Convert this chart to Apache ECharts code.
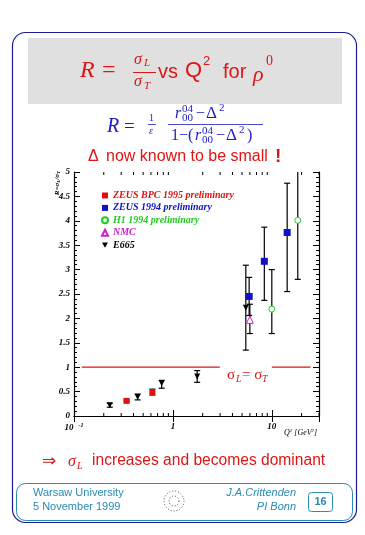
<!DOCTYPE html>
<html><head><meta charset="utf-8">
<script src="https://cdn.jsdelivr.net/npm/echarts@6/dist/echarts.min.js"></script>
<style>html,body{margin:0;padding:0;background:#fff}#c{width:365px;height:535px}</style>
</head><body><div id="c"></div>
<script>
// ---- data ----
const bpcQ = [0.34, 0.62];
const bpcR = [0.31, 0.49];
const bpcLo = [0.29, 0.43];
const bpcHi = [0.33, 0.55];

const zeus94Q = [5.9, 8.4, 14.3];
const zeus94R = [2.45, 3.17, 3.76];
const zeus94Lo = [2.06, 2.37, 2.55];
const zeus94Hi = [2.84, 3.87, 4.77];

const h1Q = [10.0, 18.3];
const h1R = [2.19, 4.01];
const h1Lo = [1.69, 2.80];
const h1Hi = [3.00, 5.20];

const nmcQ = [6.0];
const nmcR = [1.97];
const nmcLo = [1.69];
const nmcHi = [2.29];

const e665Q = [0.23, 0.44, 0.77, 1.76, 5.46];
const e665R = [0.22, 0.39, 0.67, 0.81, 2.22];
const e665Lo = [0.18, 0.33, 0.57, 0.69, 1.35];
const e665Hi = [0.26, 0.45, 0.73, 0.93, 3.09];

const refLineSegments = [[0.12, 2.98], [10, 24.6]];
const refLineR = 1;

const xMinorTicks = [0.2,0.3,0.4,0.5,0.6,0.7,0.8,0.9,2,3,4,5,6,7,8,9,20,30];
const legendNames = ['ZEUS BPC 1995 preliminary','ZEUS 1994 preliminary','H1 1994 preliminary','NMC','E665'];

// ---- helpers ----
const RED = '#dd1515', BLUE = '#1a1acc', TEAL = '#2a8ab4';
const serif = '"Liberation Serif","DejaVu Serif",serif';
const sans = '"Liberation Sans","DejaVu Sans",sans-serif';
function pts(q, r) { return q.map((v, i) => [v, r[i]]); }
function errs(q, lo, hi) { return q.map((v, i) => [v, lo[i], hi[i]]); }
const allErr = [].concat(errs(bpcQ,bpcLo,bpcHi), errs(zeus94Q,zeus94Lo,zeus94Hi), errs(h1Q,h1Lo,h1Hi), errs(nmcQ,nmcLo,nmcHi), errs(e665Q,e665Lo,e665Hi));

const chart = echarts.init(document.getElementById('c'), null, {renderer:'canvas'});
const axisFont = {fontFamily: serif, fontStyle:'italic', fontWeight:'bold', fontSize:9, color:'#000'};

function T(text, x, y, font, fill, extra) {
  return {type:'text', z:10, style:Object.assign({text, x, y, font, fill, verticalAlign:'middle'}, extra||{})};
}
function L(x1,y1,x2,y2,stroke,w){ return {type:'line', shape:{x1,y1,x2,y2}, style:{stroke, lineWidth:w||1}, z:10}; }

const graphic = [
  {type:'rect', shape:{x:12.5,y:32.5,width:344,height:490,r:13}, style:{fill:'none', stroke:'#1c1c96', lineWidth:1.2}, z:1},
  {type:'rect', shape:{x:28,y:38,width:314,height:66}, style:{fill:'#e0e0e0'}, z:2},
  // title
  T('R', 80, 71, 'italic 24px '+serif, RED),
  T('=', 102, 71, '24px '+serif, RED),
  T('σ', 134, 60, 'italic 16px '+serif, RED),
  T('L', 144, 63, 'italic 11px '+serif, RED),
  L(133, 72.5, 156, 72.5, RED, 1),
  T('σ', 134, 82, 'italic 16px '+serif, RED),
  T('T', 144, 86, 'italic 11px '+serif, RED),
  T('vs', 158, 72, '20px '+sans, RED),
  T('Q', 185, 71, '22px '+sans, RED),
  T('2', 203, 61, '13px '+sans, RED),
  T('for', 223, 72, '20px '+sans, RED),
  T('ρ', 253, 75, 'italic 22px '+serif, RED),
  T('0', 266, 61, '14px '+serif, RED),
  // formula
  T('R', 107, 127, 'italic 20px '+serif, BLUE),
  T('=', 124, 127, '19px '+serif, BLUE),
  T('1', 149, 118, '10px '+serif, BLUE),
  L(148, 124.5, 156, 124.5, BLUE, 0.8),
  T('ε', 149, 131, 'italic 10px '+serif, BLUE),
  // numerator
  T('r', 175, 114, 'italic 16px '+serif, BLUE),
  T('04', 182, 109, '11px '+serif, BLUE),
  T('00', 182, 118, '11px '+serif, BLUE),
  T('−', 196, 114, '16px '+serif, BLUE),
  T('Δ', 206, 114, '17px '+serif, BLUE),
  T('2', 219, 108, '11px '+serif, BLUE),
  L(168, 124.5, 263, 124.5, BLUE, 0.8),
  // denominator
  T('1−(', 171, 136, '16px '+serif, BLUE),
  T('r', 195, 136, 'italic 16px '+serif, BLUE),
  T('04', 202, 131, '11px '+serif, BLUE),
  T('00', 202, 140, '11px '+serif, BLUE),
  T('−', 216, 136, '16px '+serif, BLUE),
  T('Δ', 226, 136, '17px '+serif, BLUE),
  T('2', 239, 130, '11px '+serif, BLUE),
  T(')', 247, 136, '16px '+serif, BLUE),
  // small delta
  T('Δ', 88, 157, '16px '+sans, RED),
  T('now known to be small', 106, 157, '16px '+sans, RED),
  T('!', 275, 157, 'bold 19px '+sans, RED),
  // y axis title
  {type:'text', x:57, y:183, rotation:Math.PI/2, z:10, style:{text:'R=σ{s|L}/σ{s|T}', font:'italic bold 7px '+serif, fill:'#000', align:'center', verticalAlign:'middle', rich:{s:{fontSize:5, fontFamily:serif, fontStyle:'italic', fontWeight:'bold', padding:[3,0,0,0]}}}},
  // x axis name
  {type:'text', z:10, style:{text:'Q{s|2} [GeV{s|2}]', x:284, y:433, font:'italic 8px '+serif, fill:'#000', verticalAlign:'middle', rich:{s:{fontSize:5, fontFamily:serif, fontStyle:'italic', padding:[0,0,5,0]}}}},
  // reference line label
  T('σ', 227, 375, '15px '+serif, RED),
  T('L', 236, 379, 'italic 10px '+serif, RED),
  T('= σ', 242, 375, '15px '+serif, RED),
  T('T', 262, 379, 'italic 10px '+serif, RED),
  // conclusion
  T('⇒', 42, 461, '17px '+sans, RED),
  T('σ', 68, 462, 'italic 16px '+serif, RED),
  T('L', 77, 466, 'italic 10px '+serif, RED),
  T('increases and becomes dominant', 92, 461, '15.6px '+sans, RED),
  // footer
  {type:'rect', shape:{x:16.5,y:483.5,width:336,height:37,r:9}, style:{fill:'none', stroke:TEAL, lineWidth:1}, z:2},
  T('Warsaw University', 33, 493, '11px '+sans, TEAL),
  T('5 November 1999', 33, 507, '11px '+sans, TEAL),
  T('J.A.Crittenden', 296, 493, 'italic 11px '+sans, TEAL, {align:'right'}),
  T('PI Bonn', 296, 507, 'italic 11px '+sans, TEAL, {align:'right'}),
  {type:'rect', shape:{x:308.5,y:492.5,width:24,height:19,r:3}, style:{fill:'none', stroke:TEAL, lineWidth:1}, z:2},
  T('16', 320.5, 502, 'bold 11px '+sans, TEAL, {align:'center'}),
  {type:'circle', shape:{cx:174, cy:501, r:10}, style:{fill:'none', stroke:'#444', lineWidth:1, lineDash:[1,2]}, z:5},
  {type:'circle', shape:{cx:174, cy:501, r:5}, style:{fill:'none', stroke:'#444', lineWidth:1, lineDash:[1,2]}, z:5}
];

function errRender(params, api) {
  const x = api.value(0), lo = api.value(1), hi = api.value(2);
  const p1 = api.coord([x, hi]), p2 = api.coord([x, lo]);
  const w = 3, s = {stroke:'#000', lineWidth:1.2};
  return {type:'group', children:[
    {type:'line', shape:{x1:p1[0],y1:p1[1],x2:p2[0],y2:p2[1]}, style:s},
    {type:'line', shape:{x1:p1[0]-w,y1:p1[1],x2:p1[0]+w,y2:p1[1]}, style:s},
    {type:'line', shape:{x1:p2[0]-w,y1:p2[1],x2:p2[0]+w,y2:p2[1]}, style:s}
  ]};
}
function minorRender(params, api) {
  const x = api.value(0);
  const b = api.coord([x, 0]), t = api.coord([x, 5]);
  const s = {stroke:'#000', lineWidth:1};
  return {type:'group', children:[
    {type:'line', shape:{x1:b[0],y1:b[1],x2:b[0],y2:b[1]-3}, style:s},
    {type:'line', shape:{x1:t[0],y1:t[1],x2:t[0],y2:t[1]+3}, style:s}
  ]};
}
function xLabel(v) {
  const e = Math.log10(v), r = Math.round(e);
  if (Math.abs(e - r) > 1e-6) return '';
  return r === -1 ? '10{s|-1}' : (r === 0 ? '1' : '10');
}

const xAxisBase = {type:'log', logBase:10, min:0.1, max:30, splitLine:{show:false},
  axisLine:{lineStyle:{color:'#000', width:1.2}}, axisTick:{inside:true, length:6, lineStyle:{color:'#000'}}};
const yAxisBase = {type:'value', min:0, max:5, interval:0.5, splitLine:{show:false},
  axisLine:{show:true, lineStyle:{color:'#000', width:1.2}}, axisTick:{inside:true, length:6, lineStyle:{color:'#000'}},
  minorTick:{show:true, splitNumber:5, length:3, lineStyle:{color:'#000'}}};

const option = {
  animation:false,
  graphic,
  grid:{left:74, top:172, width:245, height:244, containLabel:false},
  legend:{
    orient:'vertical', left:101, top:190.5, padding:0, itemWidth:6, itemHeight:6, itemGap:2.4, selectedMode:false,
    textStyle:{fontFamily:serif, fontStyle:'italic', fontWeight:'bold', fontSize:10},
    data:[
      {name:legendNames[0], textStyle:{color:'#dd1111'}},
      {name:legendNames[1], textStyle:{color:'#1111cc'}},
      {name:legendNames[2], textStyle:{color:'#22cc22'}},
      {name:legendNames[3], textStyle:{color:'#cc22cc'}},
      {name:legendNames[4], textStyle:{color:'#000'}}
    ]
  },
  xAxis:[
    Object.assign({}, xAxisBase, {position:'bottom', axisLabel:Object.assign({}, axisFont, {margin:6, formatter:xLabel,
      rich:{s:{fontSize:6, fontFamily:serif, fontStyle:'italic', fontWeight:'bold', padding:[0,0,6,5]}}})}),
    Object.assign({}, xAxisBase, {position:'top', axisLabel:{show:false}})
  ],
  yAxis:[
    Object.assign({}, yAxisBase, {position:'left', axisLabel:Object.assign({}, axisFont, {margin:4})}),
    Object.assign({}, yAxisBase, {position:'right', axisLabel:{show:false}})
  ],
  series:[
    {type:'custom', name:'minor', renderItem:minorRender, data:xMinorTicks.map(v => [v, 0]), silent:true, clip:false, z:1},
    {type:'line', name:'ref1', data:refLineSegments[0].map(q => [q, refLineR]), symbol:'none', lineStyle:{color:RED, width:1.2}, z:2},
    {type:'line', name:'ref2', data:refLineSegments[1].map(q => [q, refLineR]), symbol:'none', lineStyle:{color:RED, width:1.2}, z:2},
    {type:'custom', name:'errors', renderItem:errRender, data:allErr, encode:{x:0, y:[1,2]}, clip:true, z:3},
    {type:'scatter', name:legendNames[0], data:pts(bpcQ,bpcR), symbol:'rect', symbolSize:6, itemStyle:{color:'#dd1111', opacity:1}, z:5},
    {type:'scatter', name:legendNames[1], data:pts(zeus94Q,zeus94R), symbol:'rect', symbolSize:7, itemStyle:{color:'#1111cc', opacity:1}, z:5},
    {type:'scatter', name:legendNames[2], data:pts(h1Q,h1R), symbol:'circle', symbolSize:6, itemStyle:{color:'#fff', borderColor:'#22cc22', borderWidth:1, opacity:1}, z:5},
    {type:'scatter', name:legendNames[3], data:pts(nmcQ,nmcR), symbol:'triangle', symbolSize:7, itemStyle:{color:'#fff', borderColor:'#cc22cc', borderWidth:1, opacity:1}, z:5},
    {type:'scatter', name:legendNames[4], data:pts(e665Q,e665R), symbol:'path://M0,0 L10,0 L5,9 Z', symbolSize:[6,6], itemStyle:{color:'#000', opacity:1}, z:5}
  ]
};
chart.setOption(option);
</script></body></html>
